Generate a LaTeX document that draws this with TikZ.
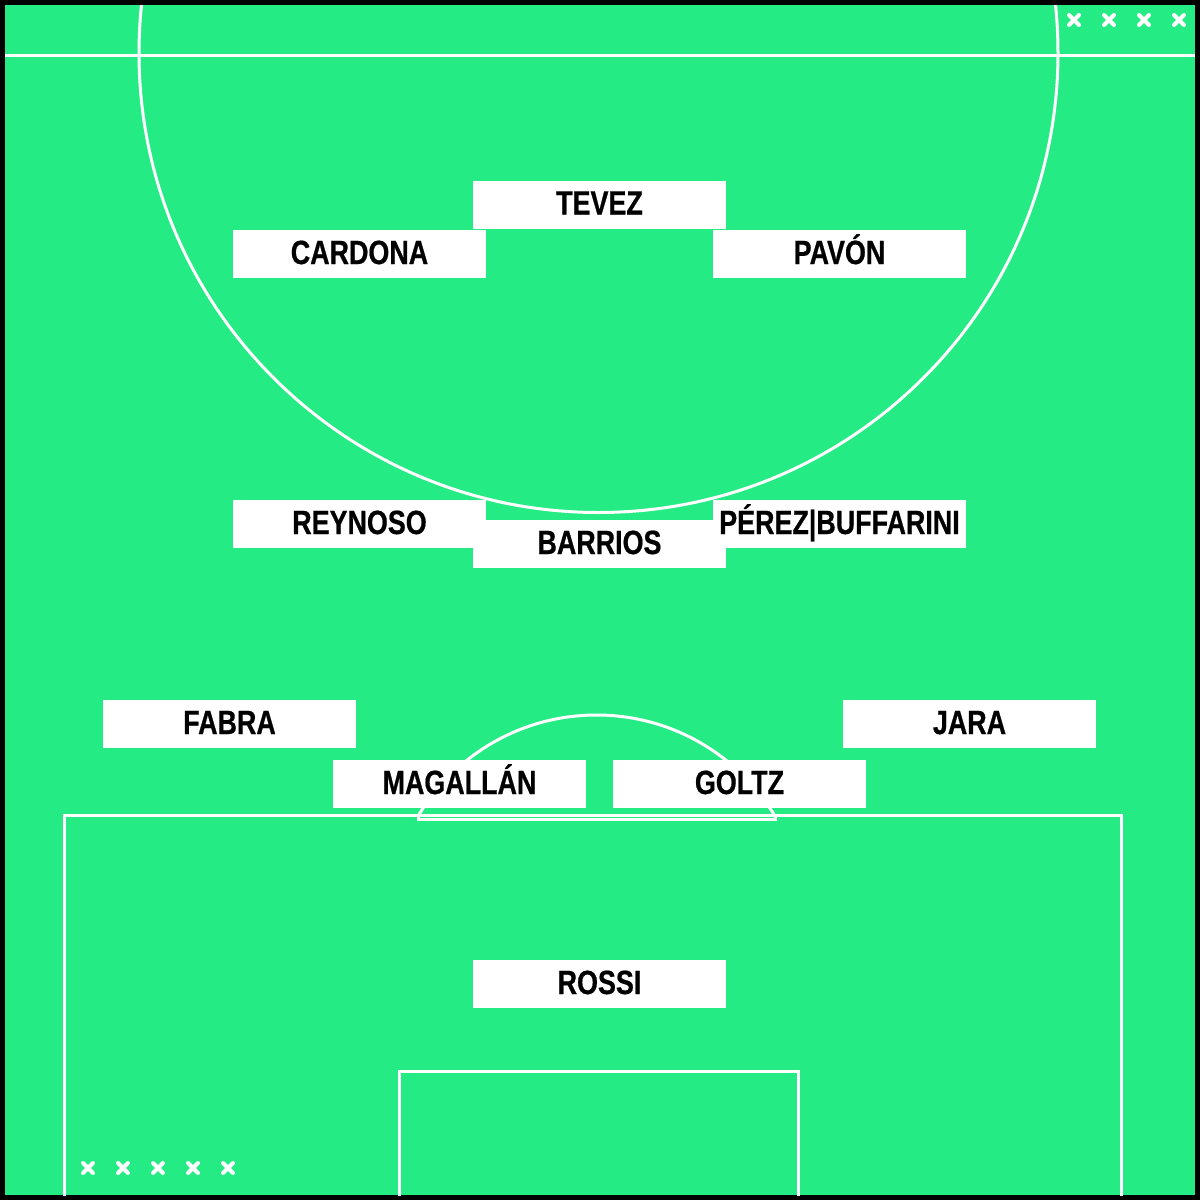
\documentclass[tikz,border=0pt]{standalone}
\usepackage{fontspec}
\newfontfamily\labelfont[FakeStretch=0.80,FakeBold=0.6]{Liberation Sans}
\definecolor{pitch}{RGB}{36,235,132}
\begin{document}
\begin{tikzpicture}[x=0.5pt,y=-0.5pt,
  fieldline/.style={draw=white,line width=1.5pt},
  xmark/.style={draw=white,line width=2pt,line cap=round},
  player/.style={fill=white,inner sep=0pt,minimum width=126.5pt,minimum height=24pt,
    text height=12pt,text depth=2pt,font=\labelfont\bfseries\fontsize{16.8}{18}\selectfont,text=black}]
\useasboundingbox (0,0) rectangle (1200,1200);
\fill[black] (0,0) rectangle (1200,1200);
\fill[pitch] (5,5) rectangle (1195,1195);
\begin{scope}
  \clip (5,5) rectangle (1195,1195);
  \draw[fieldline] (5,55) -- (1195,55);
  \draw[fieldline] (598.5,53) circle[radius=459.5];
  \draw[fieldline] (64,1210) -- (64,815) -- (1121,815) -- (1121,1210);
  \draw[fieldline] (399,1210) -- (399,1071) -- (798,1071) -- (798,1210);
  \begin{scope}
    \clip (0,0) rectangle (1200,814);
    \draw[fieldline] (596.5,923) circle[radius=208];
  \end{scope}
  \draw[fieldline] (418,815) rectangle (775,819.5);
\end{scope}
\foreach \cx in {1074,1109,1144,1179} {
  \draw[xmark] (\cx-5,15) -- (\cx+5,25) (\cx-5,25) -- (\cx+5,15);
}
\foreach \cx in {88,123,158,193,228} {
  \draw[xmark] (\cx-5,1163) -- (\cx+5,1173) (\cx-5,1173) -- (\cx+5,1163);
}
\node[player] (tevez) at (599.5,204.5) {TEVEZ};
\node[player] (cardona) at (359.5,254) {CARDONA};
\node[player] (pavon) at (839.5,254) {PAVÓN};
\node[player] (reynoso) at (359.5,524) {REYNOSO};
\node[player] (barrios) at (599.5,544) {BARRIOS};
\node[player] (perez) at (839.5,524) {PÉREZ|BUFFARINI};
\node[player] (fabra) at (229.5,724) {FABRA};
\node[player] (jara) at (969.5,724) {JARA};
\node[player] (magallan) at (459.5,784) {MAGALLÁN};
\node[player] (goltz) at (739.5,784) {GOLTZ};
\node[player] (rossi) at (599.5,984) {ROSSI};
\end{tikzpicture}
\end{document}
